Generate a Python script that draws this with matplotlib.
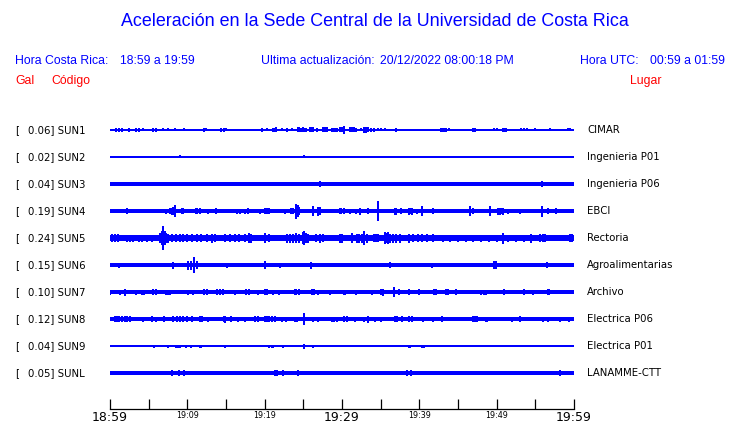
import numpy as np
import matplotlib
matplotlib.use("Agg")
import matplotlib.pyplot as plt

# ---- data ----
# minutes after 18:59, amplitude as half height of the trace (pixels)
codes = ["SUN1", "SUN2", "SUN3", "SUN4", "SUN5", "SUN6", "SUN7", "SUN8", "SUN9", "SUNL"]
peaks = ["0.06", "0.02", "0.04", "0.19", "0.24", "0.15", "0.10", "0.12", "0.04", "0.05"]
places = ["CIMAR", "Ingenieria P01", "Ingenieria P06", "EBCI", "Rectoria",
          "Agroalimentarias", "Archivo", "Electrica P06", "Electrica P01", "LANAMME-CTT"]
base_half = [0.8, 0.7, 2.2, 2.0, 3.0, 1.6, 2.0, 2.0, 0.7, 1.8]

tick_min = [0, 10, 20, 30, 40, 50, 60]
tick_lab = ["18:59", "19:09", "19:19", "19:29", "19:39", "19:49", "19:59"]

sun1_t = [0.8, 1.1, 1.6, 2.5, 3.4, 3.7, 4.3, 5.6, 6.0, 6.8, 7.5, 8.4, 9.1, 9.6, 12.1, 12.4,
          14.4, 14.7, 15.0, 17.2, 19.7, 20.3, 21.1, 21.3, 21.5, 22.2, 22.9, 23.5, 24.3, 24.5,
          24.7, 24.9, 25.1, 25.4, 25.9, 26.0, 26.2, 26.8, 27.6, 27.8, 28.0, 28.7, 28.9, 29.1,
          29.3, 29.7, 30.0, 30.3, 31.0, 31.2, 31.4, 31.6, 31.8, 32.5, 32.9, 33.1, 33.4, 33.8,
          34.1, 34.7, 35.1, 35.5, 37.0, 37.7, 39.1, 40.1, 40.8, 42.1, 42.8, 43.0, 43.2, 43.4,
          43.9, 44.4, 45.7, 46.9, 47.0, 47.2, 49.7, 50.0, 50.8, 51.0, 51.2, 53.2, 53.5, 53.9,
          55.0, 55.3, 55.7, 56.0, 56.9, 57.9, 59.2, 59.5]
sun1_a = [1.8, 1.8, 2, 2, 1.8, 2, 1.5, 2, 2, 1.5, 1.5, 1.5, 1.2, 1.5, 2, 1.5,
          2, 2, 1.5, 1.2, 2, 1.5, 2, 2, 2.5, 1.5, 2, 1.5, 2.5, 2.5,
          2, 2.5, 2, 1.8, 2.5, 2.5, 2.5, 2, 2.5, 2.5, 2.5, 2, 2, 2,
          2, 2.5, 2.5, 3.7, 2.5, 2.5, 2.5, 2.5, 2, 1.5, 3, 3, 2.5, 1.8,
          2, 1.5, 1.5, 1.5, 2, 1.2, 1.2, 1.2, 1.2, 1.2, 2, 2, 2, 2,
          1.5, 1.2, 1.2, 2, 2, 2, 1.5, 1.5, 2, 2, 2, 1.5, 1.5, 1.5,
          1.5, 1.2, 1.2, 1.2, 1.5, 1.2, 1.5, 1.5]

sun2_t = [9.1, 25.1]
sun2_a = [1.5, 1.5]

sun3_t = [27.1, 55.9]
sun3_a = [3.2, 3.2]

sun4_t = [2.2, 7.3, 7.8, 8.0, 8.2, 8.4, 9.3, 9.5, 11.1, 11.3, 11.6, 12.7, 13.7, 16.4, 16.8,
          17.4, 17.9, 19.4, 20.1, 20.3, 20.5, 22.6, 23.4, 23.6, 24.0, 24.1, 24.3, 24.5, 26.2,
          26.9, 27.2, 29.7, 29.9, 30.3, 31.0, 31.8, 32.3, 33.4, 34.7, 36.9, 37.0, 37.6, 38.7,
          38.9, 39.0, 39.7, 40.4, 41.8, 46.5, 47.0, 49.2, 50.2, 50.4, 50.6, 50.8, 51.5, 53.0,
          55.9, 56.6, 57.7]
sun4_a = [2.8, 2.5, 3, 3.5, 4, 6.3, 3, 3, 3.3, 3.3, 3.3, 2.5, 3, 2.5, 2.5,
          2.5, 3, 2.5, 3, 3, 3, 2.5, 3.3, 3.3, 5, 7.5, 6, 4, 5,
          4.5, 4, 3, 3, 3, 2.5, 2.5, 3.5, 3, 9.8, 3.5, 3.5, 3.3, 3.5,
          3.3, 3.5, 2.5, 5, 3, 5, 3, 5, 3.5, 3.5, 3.3, 3.5, 2.5, 2.5,
          5.5, 3.3, 3.3]

sun5_t = [0.2, 0.6, 1.0, 2.2, 2.6, 3.0, 3.7, 4.2, 4.8, 5.4, 6.5, 6.7, 6.9, 7.1, 7.3, 7.5,
          8.0, 8.5, 9.0, 9.5, 9.9, 10.6, 11.2, 11.8, 12.5, 13.2, 13.6, 14.9, 15.5, 16.1,
          16.7, 17.4, 18.0, 18.2, 20.0, 20.6, 22.9, 23.3, 23.7, 24.0, 24.4, 24.9, 25.1, 25.3,
          25.6, 26.6, 27.2, 27.6, 29.8, 30.0, 31.3, 31.9, 32.2, 32.6, 32.9, 33.2, 34.1, 34.4,
          34.7, 35.6, 35.8, 36.0, 36.2, 36.6, 37.0, 37.5, 38.6, 39.2, 39.8, 40.4, 41.0, 41.8,
          43.0, 44.0, 45.0, 46.0, 47.0, 48.0, 49.0, 50.0, 50.8, 51.5, 52.5, 53.5, 54.4, 55.6,
          56.0, 56.3, 59.5, 59.8]
sun5_a = [3.8, 3.8, 3.8, 3.5, 3.5, 3.5, 3.5, 3.5, 3.5, 3.5, 5, 7, 11.7, 7, 5, 4.5,
          4, 4, 4, 4, 4, 4, 4, 4, 4, 4.5, 4, 4, 4, 4,
          4, 4, 5, 4.5, 5, 4, 4.5, 4.5, 4.5, 5, 4.5, 6, 7.3, 5,
          4.5, 4, 4.5, 4, 4.5, 4.5, 5, 4.5, 4.5, 4.5, 7, 4.5, 4, 4,
          4, 6, 5, 6, 4.5, 4.5, 4.5, 4.5, 4.5, 4, 4, 4, 4, 4,
          3.5, 3.5, 3.5, 3.5, 3.5, 3.5, 3.5, 3.5, 5.5, 3.5, 3.5, 3.5, 4.5, 4,
          4, 4, 4, 4]

sun6_t = [1.1, 2.0, 3.0, 5.8, 8.1, 10.1, 10.5, 10.9, 11.2, 12.6, 12.9, 15.1, 19.0, 20.0,
          20.1, 21.3, 22.0, 25.1, 26.0, 27.6, 29.7, 30.8, 34.1, 35.1, 36.2, 38.6, 41.7, 49.7,
          49.9, 52.2, 53.2, 54.1, 56.5, 59.5]
sun6_a = [2.5, 2.2, 2.2, 2.2, 3.5, 4.5, 4.5, 8, 4, 2.2, 2.2, 2.5, 2, 4,
          4, 2.2, 2.5, 2.2, 3.5, 2.2, 2.2, 2.2, 2, 2.2, 3, 2, 2.5, 4,
          4, 2.2, 2, 2.2, 3, 2]

sun7_t = [0.0, 1.3, 1.9, 3.3, 4.1, 4.4, 5.6, 5.9, 7.2, 7.5, 7.8, 10.1, 10.7, 12.2, 12.5,
          13.8, 14.2, 14.6, 16.2, 17.6, 18.0, 19.2, 20.0, 20.3, 21.1, 21.8, 23.9, 24.1, 24.4,
          26.1, 26.4, 26.9, 28.5, 30.2, 30.4, 31.8, 33.9, 35.1, 35.3, 36.7, 37.4, 38.7, 39.9,
          41.9, 42.1, 43.4, 43.7, 44.8, 48.0, 48.3, 48.6, 51.0, 53.5, 54.7, 56.6, 56.8]
sun7_a = [2.5, 2.5, 3.5, 2.5, 2.5, 2.5, 3, 3, 2.5, 2.5, 2.5, 2.5, 2.5, 3, 3,
          3, 3, 3, 2.5, 3, 3, 2.5, 3, 3, 2.5, 2.5, 3, 3, 3,
          3, 3, 2.5, 2.5, 2.5, 2.5, 2.5, 2.5, 3, 3.5, 4.7, 3, 3, 3,
          3, 3, 3, 3, 3, 2.5, 2.5, 2.5, 3, 3, 2.5, 3, 3]

sun8_t = [0.6, 0.9, 1.2, 1.5, 1.9, 2.2, 2.6, 4.3, 5.4, 6.0, 7.0, 8.2, 8.6, 9.1, 9.5, 9.9,
          10.6, 11.6, 11.9, 12.7, 14.7, 14.9, 15.7, 16.6, 17.5, 18.8, 19.1, 20.0, 20.3, 20.6,
          20.9, 21.3, 22.2, 22.8, 23.9, 24.2, 25.1, 26.3, 26.9, 28.7, 29.0, 29.3, 30.2, 30.7,
          31.7, 32.8, 33.4, 34.3, 35.1, 36.9, 37.1, 37.7, 38.7, 39.0, 40.5, 41.8, 42.9, 47.0,
          47.2, 47.5, 48.6, 48.8, 52.0, 53.0, 56.0, 56.7, 58.2, 59.4]
sun8_a = [3, 3, 3, 3, 3, 3, 3, 2.5, 3, 2.5, 3, 3, 3, 3, 3, 3,
          3, 3, 3, 2.5, 3, 3.5, 3, 2.5, 2.5, 3, 3, 3, 3, 3,
          3, 3, 2.5, 2.5, 2.5, 2.5, 6.2, 2.5, 2.5, 2.5, 2.5, 2.5, 3, 3,
          2.5, 2.5, 3.5, 2.5, 2.5, 3, 3, 3, 3, 3, 2.5, 2.5, 3, 3,
          3, 3, 2.5, 2.5, 2.5, 3, 2.5, 2.5, 2.5, 2.5]

sun9_t = [5.7, 7.5, 8.5, 8.8, 9.1, 9.8, 10.5, 11.6, 11.8, 13.6, 14.9, 20.6, 20.9, 21.1,
          22.4, 23.1, 25.1, 26.3, 35.0, 37.4, 38.6, 38.8, 40.3, 40.6, 53.0, 58.3]
sun9_a = [1.5, 1.5, 1.5, 1.5, 1.5, 1.5, 1.5, 1.5, 1.5, 1.2, 1.5, 1.5, 1.5, 1.5,
          1.5, 1.2, 2.5, 1.5, 1.2, 1.2, 1.5, 1.5, 1.5, 1.5, 1.2, 1.2]

sunl_t = [2.0, 3.0, 8.0, 8.9, 9.6, 11.8, 12.0, 17.9, 20.7, 21.4, 21.6, 22.4, 24.3, 30.0,
          31.0, 31.7, 33.0, 33.6, 35.8, 38.4, 38.9, 42.3, 42.9, 43.5, 44.8, 46.1, 50.3, 50.6,
          52.4, 53.9, 54.7, 55.6, 58.2, 59.3]
sunl_a = [2.3, 2.3, 2.7, 2.7, 2.7, 2.3, 2.3, 2.3, 2.3, 2.7, 2.7, 2.7, 2.7, 2.3,
          2.3, 2.3, 2.3, 2.3, 2.3, 2.7, 2.7, 2.3, 2.3, 2.3, 2.3, 2.3, 2.3, 2.3,
          2.3, 2.3, 2.3, 2.3, 2.7, 2.3]

bursts_t = [sun1_t, sun2_t, sun3_t, sun4_t, sun5_t, sun6_t, sun7_t, sun8_t, sun9_t, sunl_t]
bursts_a = [sun1_a, sun2_a, sun3_a, sun4_a, sun5_a, sun6_a, sun7_a, sun8_a, sun9_a, sunl_a]

# ---- figure ----
W, H = 740, 423
blue = "#0000ff"
red = "#ff0000"
fig = plt.figure(figsize=(W / 100, H / 100), dpi=100)

def fx(x):
    return x / W

def fy(y):
    return 1 - y / H

head = "Liberation Sans"
mono = "DejaVu Sans"

fig.text(fx(375), fy(22), "Aceleración en la Sede Central de la Universidad de Costa Rica",
         ha="center", va="center", color=blue, fontsize=12.9, family=head)

fig.text(fx(15), fy(61), "Hora Costa Rica:", ha="left", va="center", color=blue, fontsize=8.8, family=head)
fig.text(fx(120), fy(61), "18:59 a 19:59", ha="left", va="center", color=blue, fontsize=8.8, family=head)
fig.text(fx(261), fy(61), "Ultima actualización:", ha="left", va="center", color=blue, fontsize=8.8, family=head)
fig.text(fx(380), fy(61), "20/12/2022 08:00:18 PM", ha="left", va="center", color=blue, fontsize=8.8, family=head)
fig.text(fx(580), fy(61), "Hora UTC:", ha="left", va="center", color=blue, fontsize=8.8, family=head)
fig.text(fx(650), fy(61), "00:59 a 01:59", ha="left", va="center", color=blue, fontsize=8.8, family=head)

fig.text(fx(15), fy(81), "Gal", ha="left", va="center", color=red, fontsize=8.8, family=head)
fig.text(fx(51), fy(81), "Código", ha="left", va="center", color=red, fontsize=8.8, family=head)
fig.text(fx(630), fy(81), "Lugar", ha="left", va="center", color=red, fontsize=8.8, family=head)

# traces axes: x in minutes, y in pixel rows
top, bottom = 115, 409
ax = fig.add_axes([fx(110), fy(bottom), (574 - 110) / W, (bottom - top) / H])
ax.set_xlim(0, 60)
ax.set_ylim(bottom, top)

row_y = [130 + 27 * i for i in range(len(codes))]
for i in range(len(codes)):
    y = row_y[i]
    h = base_half[i]
    ax.fill_between([0, 60], y - h, y + h, color=blue, lw=0, antialiased=False)
    a = np.array(bursts_a[i])
    ax.vlines(bursts_t[i], y - a, y + a, color=blue, lw=1.1, antialiased=False)

    fig.text(fx(15), fy(y), "[", ha="left", va="center", fontsize=7.3, family=mono)
    fig.text(fx(28), fy(y), peaks[i] + "] " + codes[i], ha="left", va="center",
             fontsize=7.3, family=mono)
    fig.text(fx(587), fy(y), places[i], ha="left", va="center", fontsize=7.3, family=mono)

for s in ["top", "left", "right"]:
    ax.spines[s].set_visible(False)
ax.spines["bottom"].set_linewidth(0.9)
ax.set_yticks([])
ax.set_xticks(tick_min)
ax.set_xticks([5, 15, 25, 35, 45, 55], minor=True)
ax.set_xticklabels(tick_lab, family=mono)
ax.tick_params(axis="x", which="both", direction="in", length=7, width=0.9, pad=1.5)
for lab, m in zip(ax.get_xticklabels(), tick_min):
    lab.set_fontsize(9.0 if m in (0, 30, 60) else 5.8)

fig.savefig("out.png", dpi=100)
